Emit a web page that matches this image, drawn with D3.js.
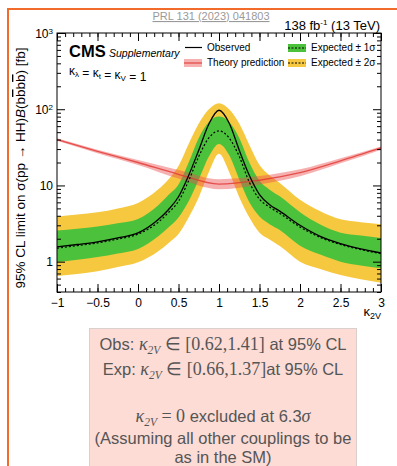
<!DOCTYPE html>
<html>
<head>
<meta charset="utf-8">
<script src="https://cdn.jsdelivr.net/npm/d3@7"></script>
<style>
body { margin: 0; background: #fff; }
svg { display: block; }
text { font-family: "Liberation Sans", Arial, Helvetica, sans-serif; }
</style>
</head>
<body>
<svg width="397" height="466"></svg>
<script>
'use strict'

// kappa_2V grid and limits [fb]
const kappa    = [-1, -0.75, -0.5, -0.25, 0, 0.25, 0.375, 0.5, 0.625, 0.75, 0.875, 1, 1.125, 1.25, 1.375, 1.5, 1.625, 1.75, 2, 2.25, 2.5, 2.75, 3];
const observed = [1.56, 1.68, 1.82, 2.05, 2.38, 3.57, 4.8, 7.1, 13.5, 29, 64, 97, 66, 29, 13.5, 7.6, 5.6, 4.6, 3.0, 2.15, 1.73, 1.47, 1.30];
const expected = [1.50, 1.62, 1.76, 1.98, 2.30, 3.3, 4.4, 6.2, 11.5, 24, 42, 52, 42, 24, 11.0, 6.6, 5.2, 4.3, 2.85, 2.08, 1.68, 1.44, 1.27];
const band1Lo  = [0.99, 1.06, 1.15, 1.28, 1.47, 2.15, 2.8, 3.8, 6.2, 12, 24, 35, 25, 12, 6, 3.9, 3.1, 2.6, 1.62, 1.24, 1.0, 0.89, 0.82];
const band1Hi  = [2.56, 2.7, 2.9, 3.2, 3.64, 5.5, 7.5, 10.3, 20, 42, 68, 80, 68, 42, 20, 11.5, 8.8, 7.2, 4.45, 3.07, 2.4, 2.2, 2.05];
const band2Lo  = [0.65, 0.69, 0.75, 0.85, 0.98, 1.37, 1.75, 2.3, 3.8, 7, 15, 26, 15, 7, 3.8, 2.4, 1.95, 1.6, 1.0, 0.8, 0.67, 0.59, 0.53];
const band2Hi  = [3.9, 4.15, 4.45, 5.0, 5.9, 8.9, 12, 18, 35, 65, 100, 120, 100, 65, 34, 18.5, 13.5, 10.8, 6.5, 4.6, 3.6, 3.3, 3.1];

// theory prediction
const thKappa   = [-1, -0.5, 0, 0.5, 1, 1.5, 2, 2.5, 3];
const thCentral = [40, 28, 20, 14, 10.4, 11.7, 14.7, 21, 31];
const thLo      = [38.5, 26.5, 18.6, 12.3, 8.9, 10.3, 13.2, 19.5, 29.5];
const thHi      = [41.5, 29.5, 21.5, 16.0, 12.1, 13.3, 16.3, 22.8, 32.5];

const xMajor = [-1, -0.5, 0, 0.5, 1, 1.5, 2, 2.5, 3];
const yMajor = [1, 10, 100, 1000];

const svg = d3.select('svg');

const pLeft = 57, pRight = 381, pTop = 33, pBottom = 292;
const green = '#4cc13c', yellow = '#f6c83f';

// orange frame and result box
svg.append('rect')
    .attr('x', 8).attr('y', 9).attr('width', 430).attr('height', 500)
    .attr('fill', 'none').attr('stroke', '#f26b2b').attr('stroke-width', 2);
svg.append('rect')
    .attr('x', 89.5).attr('y', 328.5).attr('width', 267).attr('height', 160)
    .attr('fill', '#fcdcd5').attr('stroke', '#d9d0ce');

let x = d3.scaleLinear().domain([-1, 3]).range([pLeft, pRight]);
let y = d3.scaleLog().domain([0.4, 1000]).range([pBottom, pTop]);

const rows = kappa.map((k, i) => ({
    k: k, obs: observed[i], exp: expected[i],
    l1: band1Lo[i], h1: band1Hi[i], l2: band2Lo[i], h2: band2Hi[i]
}));
const th = thKappa.map((k, i) => ({k: k, c: thCentral[i], lo: thLo[i], hi: thHi[i]}));

const plot = svg.append('g');

plot.append('path').datum(rows)
    .attr('d', d3.area().x(d => x(d.k)).y0(d => y(d.l2)).y1(d => y(d.h2)).curve(d3.curveMonotoneX))
    .style('fill', yellow);
plot.append('path').datum(rows)
    .attr('d', d3.area().x(d => x(d.k)).y0(d => y(d.l1)).y1(d => y(d.h1)).curve(d3.curveMonotoneX))
    .style('fill', green);

// theory band
plot.append('path').datum(th)
    .attr('d', d3.area().x(d => x(d.k)).y0(d => y(d.lo)).y1(d => y(d.hi)).curve(d3.curveMonotoneX))
    .style('fill', 'rgba(235,80,80,0.45)');
plot.append('path').datum(th)
    .attr('d', d3.line().x(d => x(d.k)).y(d => y(d.c)).curve(d3.curveMonotoneX))
    .style('fill', 'none').style('stroke', 'rgba(225,55,50,0.8)').style('stroke-width', 1.3);

plot.append('path').datum(rows)
    .attr('d', d3.line().x(d => x(d.k)).y(d => y(d.exp)).curve(d3.curveMonotoneX))
    .style('fill', 'none').style('stroke', '#000').style('stroke-width', 1.2)
    .style('stroke-dasharray', '2,2');
plot.append('path').datum(rows)
    .attr('d', d3.line().x(d => x(d.k)).y(d => y(d.obs)).curve(d3.curveMonotoneX))
    .style('fill', 'none').style('stroke', '#000').style('stroke-width', 1.3);

// axes, ticks pointing inward like ROOT
const xMinor = d3.range(-1, 3.001, 0.1);
const yMinor = [];
[0.1, 1, 10, 100].forEach(dec => {
    for (let m = 2; m <= 9; m++) {
        const v = dec * m;
        if (v >= 0.4 && v < 1000) yMinor.push(v);
    }
});

function noDomain(g) { g.select('.domain').remove(); }

svg.append('g').attr('transform', `translate(0, ${pBottom})`)
    .call(d3.axisBottom(x).tickValues(xMinor).tickSize(-4).tickSizeOuter(0).tickFormat(''))
    .call(noDomain);
const xAxis = svg.append('g').attr('transform', `translate(0, ${pBottom})`)
    .call(d3.axisBottom(x).tickValues(xMajor).tickSize(-8).tickSizeOuter(0)
        .tickPadding(6).tickFormat(d3.format('')))
    .call(noDomain);
xAxis.selectAll('text').attr('font-size', 12).attr('fill', '#000');
xAxis.attr('font-family', null);

svg.append('g').attr('transform', `translate(0, ${pTop})`)
    .call(d3.axisTop(x).tickValues(xMinor).tickSize(-4).tickSizeOuter(0).tickFormat(''))
    .call(noDomain);
svg.append('g').attr('transform', `translate(0, ${pTop})`)
    .call(d3.axisTop(x).tickValues(xMajor).tickSize(-8).tickSizeOuter(0).tickFormat(''))
    .call(noDomain);

svg.append('g').attr('transform', `translate(${pLeft}, 0)`)
    .call(d3.axisLeft(y).tickValues(yMinor).tickSize(-4).tickSizeOuter(0).tickFormat(''))
    .call(noDomain);
const yAxis = svg.append('g').attr('transform', `translate(${pLeft}, 0)`)
    .call(d3.axisLeft(y).tickValues(yMajor).tickSize(-8).tickSizeOuter(0)
        .tickPadding(4).tickFormat(d => d >= 100 ? '10' : String(d)))
    .call(noDomain);
yAxis.attr('font-family', null);
yAxis.selectAll('text').attr('font-size', 12).attr('fill', '#000').attr('dy', '0.35em')
    .each(function(d) {
        if (d >= 100) {
            d3.select(this).append('tspan')
                .attr('dy', '-0.5em').attr('font-size', 8)
                .text(Math.round(Math.log10(d)));
        }
    });

svg.append('g').attr('transform', `translate(${pRight}, 0)`)
    .call(d3.axisRight(y).tickValues(yMinor).tickSize(-4).tickSizeOuter(0).tickFormat(''))
    .call(noDomain);
svg.append('g').attr('transform', `translate(${pRight}, 0)`)
    .call(d3.axisRight(y).tickValues(yMajor).tickSize(-8).tickSizeOuter(0).tickFormat(''))
    .call(noDomain);

svg.append('rect')
    .attr('x', pLeft).attr('y', pTop).attr('width', pRight - pLeft).attr('height', pBottom - pTop)
    .attr('fill', 'none').attr('stroke', '#000').attr('stroke-width', 1);

// axis titles
const xt = svg.append('text').attr('x', pRight).attr('y', 316)
    .attr('text-anchor', 'end').attr('font-size', 13).text('κ');
xt.append('tspan').attr('dy', 3).attr('font-size', 9).text('2V');

const yt = svg.append('text')
    .attr('transform', 'translate(25, 168) rotate(-90)')
    .attr('text-anchor', 'middle').attr('font-size', 13.5);
yt.append('tspan').text('95% CL limit on σ(pp → HH)');
yt.append('tspan').style('font-style', 'italic').text('B');
yt.append('tspan').text('(b');
yt.append('tspan').style('text-decoration', 'overline').text('b');
yt.append('tspan').text('b');
yt.append('tspan').style('text-decoration', 'overline').text('b');
yt.append('tspan').text(') [fb]');

// header texts
svg.append('text').attr('x', 211).attr('y', 20).attr('text-anchor', 'middle')
    .attr('font-size', 11).attr('fill', '#9a9a9a').style('text-decoration', 'underline')
    .text('PRL 131 (2023) 041803');

const lumi = svg.append('text').attr('x', 380).attr('y', 30).attr('text-anchor', 'end').attr('font-size', 13);
lumi.append('tspan').text('138 fb');
lumi.append('tspan').attr('dy', -5).attr('font-size', 8).text('-1');
lumi.append('tspan').attr('dy', 5).text(' (13 TeV)');

svg.append('text').attr('x', 69).attr('y', 57).attr('font-size', 16.5)
    .attr('font-weight', 'bold').text('CMS');
svg.append('text').attr('x', 109).attr('y', 57).attr('font-size', 10.5)
    .attr('font-style', 'italic').text('Supplementary');

const kl = svg.append('text').attr('x', 69).attr('y', 75).attr('font-size', 12);
[['κ', 'λ'], [' = κ', 't'], [' = κ', 'V']].forEach(p => {
    kl.append('tspan').text(p[0]);
    kl.append('tspan').attr('dy', 2).attr('font-size', 8).text(p[1]);
    kl.append('tspan').attr('dy', -2).text('');
});
kl.append('tspan').text(' = 1');

// legend
const leg = svg.append('g').attr('font-size', 10);
leg.append('line').attr('x1', 185).attr('x2', 202).attr('y1', 47.5).attr('y2', 47.5)
    .attr('stroke', '#000').attr('stroke-width', 1.2);
leg.append('text').attr('x', 207).attr('y', 51).text('Observed');
leg.append('rect').attr('x', 184).attr('y', 59).attr('width', 18).attr('height', 8)
    .attr('fill', 'rgba(235,80,80,0.45)');
leg.append('line').attr('x1', 184).attr('x2', 202).attr('y1', 63).attr('y2', 63)
    .attr('stroke', 'rgba(225,55,50,0.8)').attr('stroke-width', 1.3);
leg.append('text').attr('x', 207).attr('y', 66).text('Theory prediction');
[[44, green, 'Expected ± 1σ'], [59, yellow, 'Expected ± 2σ']].forEach(e => {
    leg.append('rect').attr('x', 288).attr('y', e[0]).attr('width', 18).attr('height', 8).attr('fill', e[1]);
    leg.append('line').attr('x1', 288).attr('x2', 306).attr('y1', e[0] + 4).attr('y2', e[0] + 4)
        .attr('stroke', '#000').attr('stroke-width', 1).attr('stroke-dasharray', '2,1.5');
    leg.append('text').attr('x', 311).attr('y', e[0] + 7).text(e[2]);
});

// result box text
const serif = '"Liberation Serif", "Times New Roman", serif';
function richLine(yPos, parts) {
    const size = 16.5;
    const t = svg.append('text').attr('x', 223).attr('y', yPos)
        .attr('text-anchor', 'middle').attr('font-size', size).attr('fill', '#555');
    let shift = 0;
    parts.forEach(p => {
        const s = t.append('tspan').text(p.t);
        if (p.serif) s.style('font-family', serif).attr('font-size', size + 1.5);
        if (p.it) s.style('font-style', 'italic');
        const want = p.sub ? 4 : 0;
        if (want !== shift) s.attr('dy', want - shift);
        shift = want;
        if (p.sub) s.attr('font-size', 11.5);
    });
}

richLine(350, [
    {t: 'Obs: '}, {t: 'κ', serif: true, it: true}, {t: '2V', serif: true, it: true, sub: true},
    {t: ' ∈ [0.62,1.41]', serif: true}, {t: ' at 95% CL'}
]);
richLine(375, [
    {t: 'Exp: '}, {t: 'κ', serif: true, it: true}, {t: '2V', serif: true, it: true, sub: true},
    {t: ' ∈ [0.66,1.37]', serif: true}, {t: 'at 95% CL'}
]);
richLine(422, [
    {t: 'κ', serif: true, it: true}, {t: '2V', serif: true, it: true, sub: true},
    {t: ' = 0', serif: true}, {t: ' excluded at 6.3'}, {t: 'σ', serif: true, it: true}
]);
richLine(444, [{t: '(Assuming all other couplings to be'}]);
richLine(463, [{t: 'as in the SM)'}]);
</script>
</body>
</html>
